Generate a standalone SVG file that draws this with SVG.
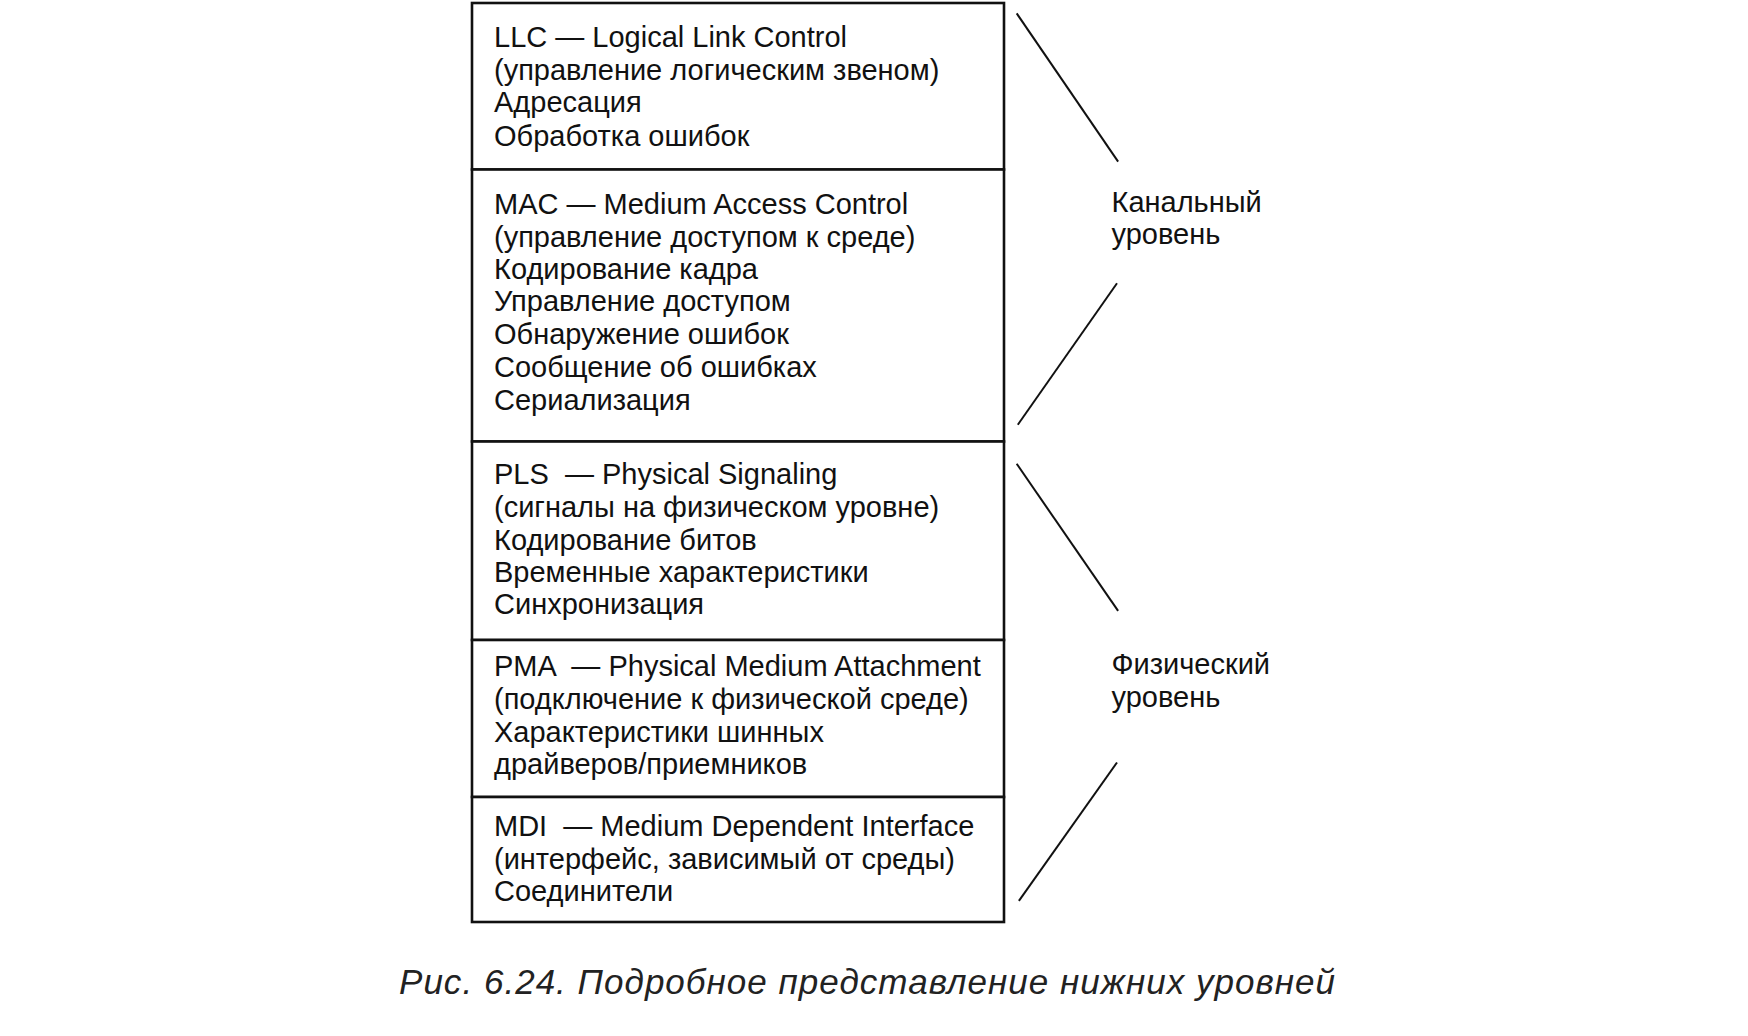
<svg xmlns="http://www.w3.org/2000/svg" width="1748" height="1036" viewBox="0 0 1748 1036">
<style>
.box{fill:#fff;stroke:#111;stroke-width:2.6}
.t{font-family:"Liberation Sans",Arial,sans-serif;font-size:29px;fill:#111;white-space:pre}
.lbl{font-family:"Liberation Sans",Arial,sans-serif;font-size:29px;fill:#111}
.cap{font-family:"Liberation Sans",Arial,sans-serif;font-size:35px;font-style:italic;fill:#222}
.ln{stroke:#111;stroke-width:2;fill:none}
</style>
<rect width="1748" height="1036" fill="#fff"/>
<g id="llc">
<rect class="box" x="472" y="3" width="532" height="166.5"/>
<text class="t" x="494" y="47">LLC — Logical Link Control</text>
<text class="t" x="494" y="80.3">(управление логическим звеном)</text>
<text class="t" x="494" y="112.4">Адресация</text>
<text class="t" x="494" y="145.5">Обработка ошибок</text>
</g>
<g id="mac">
<rect class="box" x="472" y="169.5" width="532" height="272"/>
<text class="t" x="494" y="213.7">MAC — Medium Access Control</text>
<text class="t" x="494" y="246.8">(управление доступом к среде)</text>
<text class="t" x="494" y="278.9">Кодирование кадра</text>
<text class="t" x="494" y="311">Управление доступом</text>
<text class="t" x="494" y="344">Обнаружение ошибок</text>
<text class="t" x="494" y="377.2">Сообщение об ошибках</text>
<text class="t" x="494" y="410.3">Сериализация</text>
</g>
<g id="pls">
<rect class="box" x="472" y="441.5" width="532" height="198.5"/>
<text class="t" x="494" y="483.5" xml:space="preserve">PLS  — Physical Signaling</text>
<text class="t" x="494" y="516.6">(сигналы на физическом уровне)</text>
<text class="t" x="494" y="549.7">Кодирование битов</text>
<text class="t" x="494" y="581.8">Временные характеристики</text>
<text class="t" x="494" y="613.9">Синхронизация</text>
</g>
<g id="pma">
<rect class="box" x="472" y="640" width="532" height="157"/>
<text class="t" x="494" y="676" xml:space="preserve">PMA  — Physical Medium Attachment</text>
<text class="t" x="494" y="709.2">(подключение к физической среде)</text>
<text class="t" x="494" y="742.3">Характеристики шинных</text>
<text class="t" x="494" y="774.4">драйверов/приемников</text>
</g>
<g id="mdi">
<rect class="box" x="472" y="797" width="532" height="125"/>
<text class="t" x="494" y="835.6" xml:space="preserve">MDI  — Medium Dependent Interface</text>
<text class="t" x="494" y="868.7">(интерфейс, зависимый от среды)</text>
<text class="t" x="494" y="900.8">Соединители</text>
</g>
<g id="datalink-label">
<text class="lbl" x="1111.5" y="211.7">Канальный</text>
<text class="lbl" x="1111.5" y="243.8">уровень</text>
</g>
<g id="physical-label">
<text class="lbl" x="1111.5" y="674">Физический</text>
<text class="lbl" x="1111.5" y="707.2">уровень</text>
</g>
<g id="connectors">
<line class="ln" x1="1016.7" y1="13.4" x2="1118.1" y2="161.6"/>
<line class="ln" x1="1117" y1="283.2" x2="1017.8" y2="424.7"/>
<line class="ln" x1="1016.7" y1="463.8" x2="1118.1" y2="610.9"/>
<line class="ln" x1="1117" y1="762.5" x2="1018.9" y2="900.8"/>
</g>
<g id="caption">
<text class="cap" x="399" y="993.5" textLength="936" lengthAdjust="spacing">Рис. 6.24. Подробное представление нижних уровней</text>
</g>
</svg>
